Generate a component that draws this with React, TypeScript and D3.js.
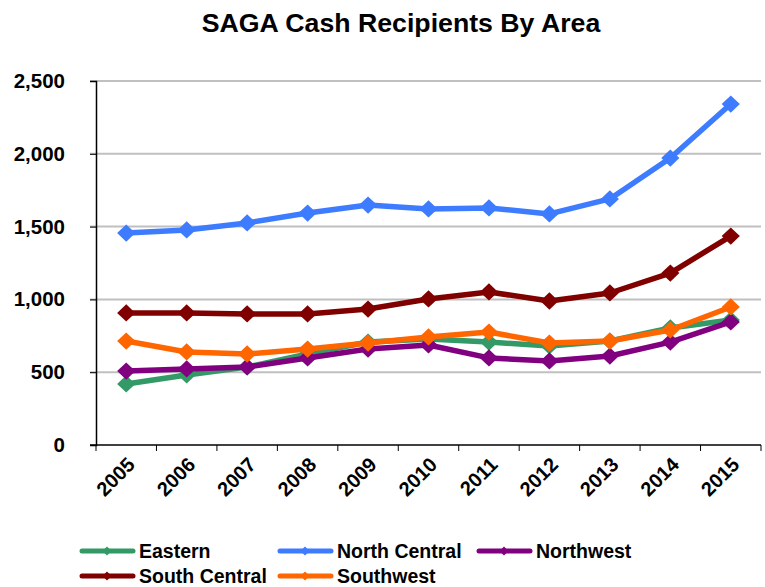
import React, { useRef, useEffect } from "react";
import * as d3 from "d3";

const years = ["2005", "2006", "2007", "2008", "2009", "2010", "2011", "2012", "2013", "2014", "2015"];
const eastern = [419, 481, 536, 625, 707, 728, 707, 680, 714, 804, 859];
const northCentral = [1456, 1477, 1525, 1593, 1648, 1621, 1628, 1587, 1690, 1971, 2342];
const northwest = [508, 522, 536, 598, 659, 687, 598, 577, 611, 707, 845];
const southCentral = [907, 907, 900, 900, 934, 1003, 1051, 989, 1044, 1181, 1435];
const southwest = [714, 639, 625, 659, 700, 742, 776, 700, 714, 790, 948];
const yTicks = [0, 500, 1000, 1500, 2000, 2500];

const series = [
  { name: "Eastern", color: "#339966", values: eastern },
  { name: "North Central", color: "#3d7bff", values: northCentral },
  { name: "Northwest", color: "#800080", values: northwest },
  { name: "South Central", color: "#800000", values: southCentral },
  { name: "Southwest", color: "#ff6600", values: southwest },
];

const W = 765;
const H = 587;
const FONT = "'Liberation Sans', Arial, sans-serif";

function App() {
  const svgRef = useRef(null);

  useEffect(() => {
    const svg = d3.select(svgRef.current);
    svg.selectAll("*").remove();

    const left = 96, right = 761, top = 81, bottom = 445;

    const x = d3.scaleBand().domain(years).range([left, right]);
    const y = d3.scaleLinear().domain([0, 2500]).range([bottom, top]);

    // title
    svg.append("text")
      .attr("x", 401).attr("y", 32)
      .attr("text-anchor", "middle")
      .attr("font-family", FONT).attr("font-weight", "bold").attr("font-size", 26.7)
      .text("SAGA Cash Recipients By Area");

    // grid
    svg.selectAll(".grid")
      .data(yTicks.filter(t => t > 0))
      .join("line")
      .attr("x1", left - 6).attr("x2", right)
      .attr("y1", d => y(d)).attr("y2", d => y(d))
      .attr("stroke", "#c0c0c0").attr("stroke-width", 2);

    // y axis
    const yAxis = svg.append("g")
      .attr("transform", `translate(${left},0)`)
      .call(d3.axisLeft(y).tickValues(yTicks).tickSize(6).tickPadding(25).tickFormat(d3.format(",")));
    yAxis.select(".domain").attr("stroke", "#000").attr("stroke-width", 1.5);
    yAxis.selectAll(".tick line").attr("stroke", "#000");
    yAxis.selectAll("text")
      .attr("font-family", FONT).attr("font-weight", "bold").attr("font-size", 20.5).attr("fill", "#000");

    // x axis
    svg.append("line")
      .attr("x1", left - 6).attr("x2", right).attr("y1", bottom).attr("y2", bottom)
      .attr("stroke", "#000").attr("stroke-width", 1.5);
    const boundaries = years.map(yr => x(yr)).concat([right]);
    svg.selectAll(".xtick")
      .data(boundaries)
      .join("line")
      .attr("x1", d => d).attr("x2", d => d)
      .attr("y1", bottom).attr("y2", bottom + 6)
      .attr("stroke", "#000");
    svg.selectAll(".xlabel")
      .data(years)
      .join("text")
      .attr("transform", d => `translate(${x(d) + x.bandwidth() / 2 + 5},${bottom + 16}) rotate(-45)`)
      .attr("text-anchor", "end")
      .attr("dy", "0.35em")
      .attr("font-family", FONT).attr("font-weight", "bold").attr("font-size", 20)
      .text(d => d);

    const cx = i => x(years[i]) + x.bandwidth() / 2;
    const line = d3.line().x((d, i) => cx(i)).y(d => y(d));
    const diamond = d3.symbol().type(d3.symbolSquare).size(165);

    series.forEach(s => {
      svg.append("path")
        .attr("d", line(s.values))
        .attr("fill", "none")
        .attr("stroke", s.color)
        .attr("stroke-width", 5.5)
        .attr("stroke-linejoin", "round");
      svg.selectAll(null)
        .data(s.values)
        .join("path")
        .attr("d", diamond)
        .attr("transform", (d, i) => `translate(${cx(i)},${y(d)}) scale(1,0.95) rotate(45)`)
        .attr("fill", s.color);
    });

    // legend
    const legendPos = [
      { x: 80, y: 551 }, { x: 278, y: 551 }, { x: 477, y: 551 },
      { x: 80, y: 576 }, { x: 278, y: 576 },
    ];
    const legendSymbol = d3.symbol().type(d3.symbolSquare).size(40);
    series.forEach((s, i) => {
      const p = legendPos[i];
      const g = svg.append("g").attr("transform", `translate(${p.x},${p.y})`);
      g.append("line").attr("x1", 2).attr("x2", 53).attr("y1", 0).attr("y2", 0)
        .attr("stroke", s.color).attr("stroke-width", 5).attr("stroke-linecap", "round");
      g.append("path").attr("d", legendSymbol).attr("transform", "translate(27,0) rotate(45)").attr("fill", s.color);
      g.append("text").attr("x", 59).attr("y", 0).attr("dy", "0.36em")
        .attr("font-family", FONT).attr("font-weight", "bold").attr("font-size", 19.5)
        .text(s.name);
    });
  }, []);

  return (
    <div style={{ position: "absolute", left: 0, top: 0 }}>
      <svg ref={svgRef} width={W} height={H} style={{ display: "block", background: "#fff" }}></svg>
    </div>
  );
}

export default App;
